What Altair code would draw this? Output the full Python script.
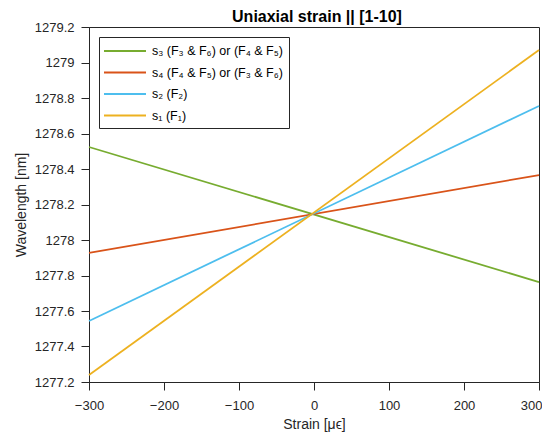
import altair as alt
import pandas as pd

series = ["s₃ (F₃ & F₆) or (F₄ & F₅)", "s₄ (F₄ & F₅) or (F₃ & F₆)", "s₂ (F₂)", "s₁ (F₁)"]
colors = ["#77AC30", "#D95319", "#4DBEEE", "#EDB120"]
strain = [-300, 300]
s3_vals = [1278.524, 1277.763]
s4_vals = [1277.927, 1278.366]
s2_vals = [1277.544, 1278.755]
s1_vals = [1277.240, 1279.070]
x_ticks = [-300, -200, -100, 0, 100, 200, 300]
y_ticks = [1277.2, 1277.4, 1277.6, 1277.8, 1278.0, 1278.2, 1278.4, 1278.6, 1278.8, 1279.0, 1279.2]

rows = []
for name, vals in zip(series, [s3_vals, s4_vals, s2_vals, s1_vals]):
    for x, y in zip(strain, vals):
        rows.append({"Strain": x, "Wavelength": y, "Series": name})
df = pd.DataFrame(rows)

font = "Liberation Sans"
axcol = "#262626"

chart = alt.Chart(df).mark_line(strokeWidth=1.8).encode(
    x=alt.X("Strain:Q", scale=alt.Scale(domain=[-300, 300], nice=False),
            axis=alt.Axis(title="Strain [μϵ]", values=x_ticks,
                          format="d", grid=False, tickSize=8, labelPadding=9, titlePadding=5,
                          labelFlush=False,
                          labelAlign={"condition": {"test": "datum.value >= 300", "value": "right"},
                                      "value": "center"},
                          labelOffset={"condition": {"test": "datum.value >= 300", "value": 3},
                                       "value": 0})),
    y=alt.Y("Wavelength:Q", scale=alt.Scale(domain=[1277.2, 1279.2], nice=False, zero=False),
            axis=alt.Axis(title="Wavelength [nm]", values=y_ticks,
                          format="~r", grid=False, tickSize=8, labelPadding=7, titlePadding=6,
                          labelFlush=False)),
    color=alt.Color("Series:N", scale=alt.Scale(domain=series, range=colors),
                    sort=series,
                    legend=alt.Legend(title=None, orient="none", legendX=10, legendY=10,
                                      symbolType="M-3,0H3", symbolSize=196, symbolStrokeWidth=2,
                                      symbolOffset=12,
                                      labelFontSize=12.5, labelFont=font, labelColor="#000000",
                                      labelLimit=400, rowPadding=6.5, padding=6,
                                      strokeColor=axcol, fillColor="white",
                                      labelOffset=19)),
).properties(
    width=450, height=355,
    title=alt.TitleParams("Uniaxial strain || [1-10]", fontSize=16, font=font,
                          fontWeight="bold", color="#000000", offset=2, dy=6, dx=3,
                          frame="group"),
    autosize=alt.AutoSizeParams(type="none"),
    padding={"left": 81, "top": 19, "right": 3, "bottom": 54},
).configure_axis(
    labelFont=font, titleFont=font, labelFontSize=13, titleFontSize=14,
    labelColor=axcol, titleColor=axcol, domainColor=axcol, tickColor=axcol,
    titleFontWeight="normal",
).configure_view(
    stroke=axcol, strokeWidth=1,
)

chart.save("out.html", embed_options={"renderer": "svg", "actions": False})
